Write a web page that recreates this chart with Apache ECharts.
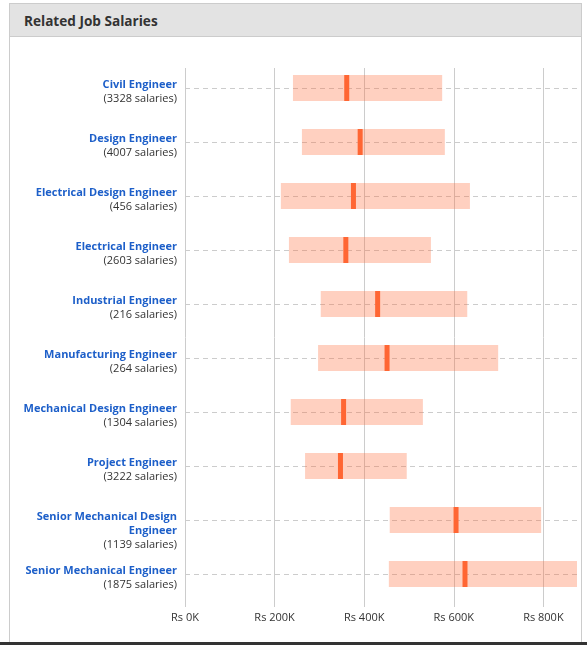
<!DOCTYPE html>
<html lang="en">
	<head>
		<meta charset="utf-8" />
		<title>Related Job Salaries</title>
		<style>
			html, body { margin: 0; padding: 0; background: #fff; }
			body { width: 587px; height: 645px; position: relative; overflow: hidden; font-family: "Open Sans", sans-serif; }
			.panel {
				position: absolute; left: 9px; top: 3px; width: 571px; height: 640px;
				border: 1px solid #ccc; border-bottom: none;
			}
			.panel .head {
				height: 32px; background: #e3e3e3; border-bottom: 1px solid #ccc;
			}
			.panel h3 {
				margin: 0; padding-left: 14px; line-height: 33px;
				font-size: 13.6px; font-weight: bold; color: #333;
			}
			.bottom-bar { position: absolute; left: 0; top: 642px; width: 587px; height: 3px; background: #333; }
			#chart { position: absolute; left: 0; top: 0; width: 587px; height: 645px; }
		</style>
	</head>
	<body>
		<div class="panel">
			<div class="head"><h3>Related Job Salaries</h3></div>
		</div>
		<div class="bottom-bar"></div>
		<div id="chart"></div>

		<script src="https://cdn.jsdelivr.net/npm/echarts@6/dist/echarts.min.js"></script>
		<script>
			// job titles, number of salaries reported, and salary range (low / median / high) in rupees
			var jobs = ['Civil Engineer', 'Design Engineer', 'Electrical Design Engineer', 'Electrical Engineer',
				'Industrial Engineer', 'Manufacturing Engineer', 'Mechanical Design Engineer', 'Project Engineer',
				'Senior Mechanical Design Engineer', 'Senior Mechanical Engineer'];
			var counts = [3328, 4007, 456, 2603, 216, 264, 1304, 3222, 1139, 1875];
			var lows = [241000, 261000, 214000, 232000, 303000, 297000, 236000, 268000, 457000, 455000];
			var medians = [361000, 391000, 376000, 359000, 430000, 451000, 354000, 347000, 605000, 625000];
			var highs = [574000, 580000, 636000, 549000, 630000, 699000, 531000, 495000, 795000, 875000];
			var xMax = 875000;
			var tickStep = 200000;

			var chart = echarts.init(document.getElementById('chart'), null, { renderer: 'canvas' });

			var rows = jobs.map(function (j, i) {
				return [i, lows[i], medians[i], highs[i]];
			});

			// long titles go on two lines
			function wrapName(s) {
				if (s.length <= 30) return '{n|' + s + '}';
				var k = s.lastIndexOf(' ');
				return '{n|' + s.slice(0, k) + '}\n{n|' + s.slice(k + 1) + '}';
			}

			function renderRow(params, api) {
				var i = api.value(0);
				var p0 = api.coord([api.value(1), i]);
				var pm = api.coord([api.value(2), i]);
				var p1 = api.coord([api.value(3), i]);
				var cs = params.coordSys;
				var h = 26;
				return {
					type: 'group',
					children: [{
						type: 'line',
						shape: { x1: cs.x, y1: p0[1] + 0.5, x2: cs.x + cs.width, y2: p0[1] + 0.5 },
						style: { stroke: '#ccc', lineWidth: 1, lineDash: [5, 4] }
					}, {
						type: 'rect',
						shape: { x: p0[0], y: p0[1] - h / 2, width: p1[0] - p0[0], height: h },
						style: { fill: 'rgba(255,102,51,0.31)' }
					}, {
						type: 'rect',
						shape: { x: pm[0] - 2.5, y: p0[1] - h / 2, width: 5, height: h },
						style: { fill: '#ff6633' }
					}]
				};
			}

			var option = {
				animation: false,
				textStyle: { fontFamily: 'Open Sans' },
				grid: [
					{ left: 185, right: 10, top: 68, bottom: 38 },   // grid lines + x labels
					{ left: 185, right: 10, top: 61, height: 540 },  // bars
					{ left: 185, right: 10, top: 51, height: 540 }   // job labels
				],
				xAxis: [{
					gridIndex: 0, type: 'value', min: 0, max: xMax, interval: tickStep,
					axisLine: { show: false }, axisTick: { show: false },
					splitLine: { show: true, showMaxLine: false, lineStyle: { color: '#ccc', width: 1 } },
					axisLabel: {
						margin: 5, fontSize: 11, color: '#333', showMaxLabel: false,
						formatter: function (v) { return 'Rs ' + (v / 1000) + 'K'; }
					}
				}, {
					gridIndex: 1, type: 'value', min: 0, max: xMax, show: false
				}, {
					gridIndex: 2, type: 'value', min: 0, max: xMax, show: false
				}],
				yAxis: [{
					gridIndex: 0, type: 'category', data: jobs, inverse: true, show: false
				}, {
					gridIndex: 1, type: 'category', data: jobs, inverse: true, show: false
				}, {
					gridIndex: 2, type: 'category', data: jobs, inverse: true,
					axisLine: { show: false }, axisTick: { show: false }, splitLine: { show: false },
					axisLabel: {
						margin: 8, align: 'right', verticalAlign: 'top', interval: 0,
						formatter: function (v, idx) {
							return wrapName(v) + '\n{c|(' + counts[idx] + ' salaries)}';
						},
						rich: {
							n: { fontFamily: 'Open Sans', fontWeight: 'bold', fontSize: 11, color: '#1d5fc9', lineHeight: 14, align: 'right' },
							c: { fontFamily: 'Open Sans', fontSize: 11, color: '#333', lineHeight: 14, align: 'right' }
						}
					}
				}],
				series: [{
					type: 'custom',
					xAxisIndex: 1, yAxisIndex: 1,
					renderItem: renderRow,
					encode: { x: [1, 2, 3], y: 0 },
					data: rows
				}]
			};

			chart.setOption(option);

			window.onresize = function () {
				chart.resize();
			};
		</script>
	</body>
</html>
